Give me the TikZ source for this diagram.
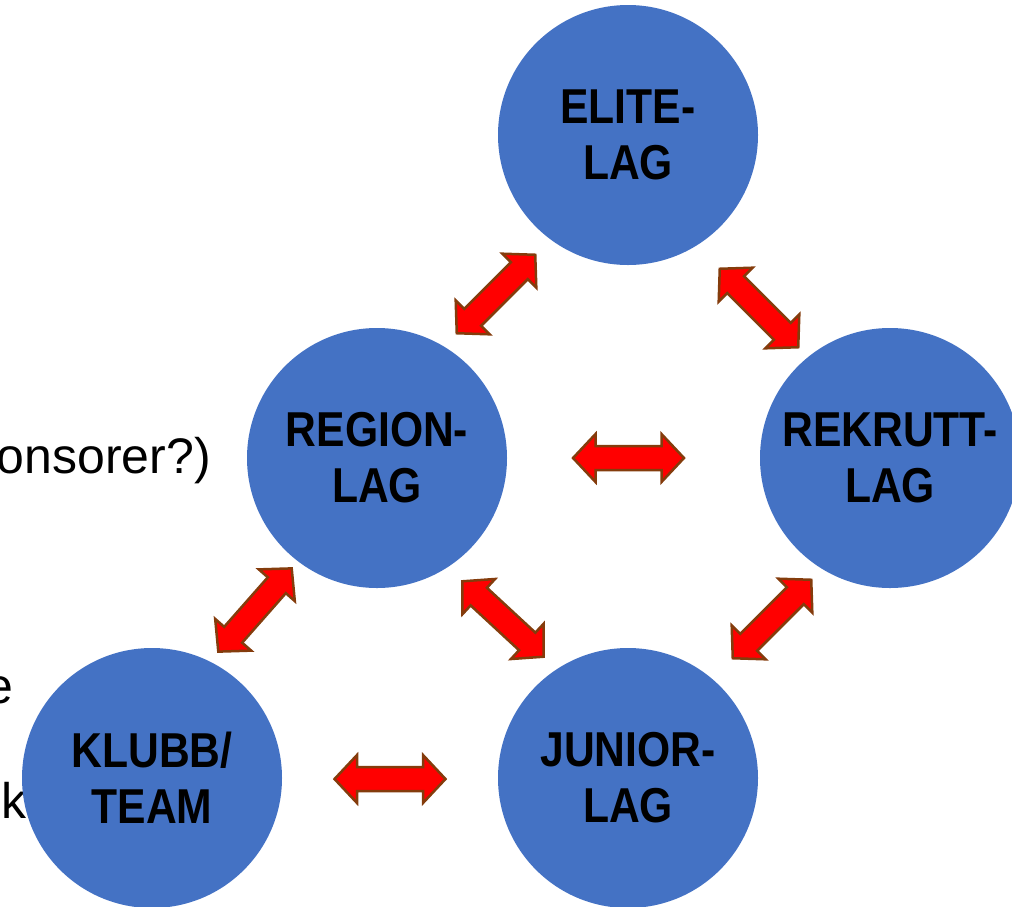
\documentclass[tikz,border=0pt]{standalone}
\usepackage{fontspec}
\setmainfont{Liberation Sans}
\newfontfamily\lblfont[FakeStretch=0.87,UprightFont={* Bold}]{Liberation Sans}
\definecolor{circblue}{HTML}{4472C4}
\definecolor{arrowred}{HTML}{FF0000}
\definecolor{arrowedge}{HTML}{843C0C}
\tikzset{
  team/.style={circle, fill=circblue, minimum size=260pt, inner sep=0pt,
    align=center, text=black, font=\lblfont\fontsize{49}{56}\selectfont},
  sidetext/.style={inner sep=0pt, text=black, font=\fontsize{50}{56}\selectfont},
  blockarrow/.style={fill=arrowred, draw=arrowedge, line width=2.5pt, line join=miter},
  dblarrow/.pic={\draw[blockarrow] (-55.5,0) -- (-33,24) -- (-33,12) -- (33,12) -- (33,24)
      -- (55.5,0) -- (33,-24) -- (33,-12) -- (-33,-12) -- (-33,-24) -- cycle;}
}
\begin{document}
\begin{tikzpicture}[x=1pt,y=-1pt]
\useasboundingbox (0,0) rectangle (1012,906);
\clip (0,0) rectangle (1012,906);
% partially hidden side texts
\node[sidetext, anchor=base east] (t1) at (211,473) {onsorer?)};
\node[sidetext, anchor=base east] (t2) at (14,703) {e};
\node[sidetext, anchor=base east] (t3) at (27,818) {k};
% circles
\node[team] (elite) at (628,135) {ELITE-\\LAG};
\node[team] (region) at (377,458) {REGION-\\LAG};
\node[team] (rekrutt) at (890,458) {REKRUTT-\\LAG};
\node[team] (klubb) at (152,778) {KLUBB/\\TEAM};
\node[team] (junior) at (628,778) {JUNIOR-\\LAG};
% block arrows
\pic at (628.5,458) {dblarrow};
\pic at (390,779) {dblarrow};
\pic[rotate=45] at (496,294) {dblarrow};
\pic[rotate=-45] at (759,308) {dblarrow};
\pic[rotate=48.6] at (255,610) {dblarrow};
\pic[rotate=-42.8] at (503,619) {dblarrow};
\pic[rotate=45] at (772,619) {dblarrow};
\end{tikzpicture}
\end{document}
